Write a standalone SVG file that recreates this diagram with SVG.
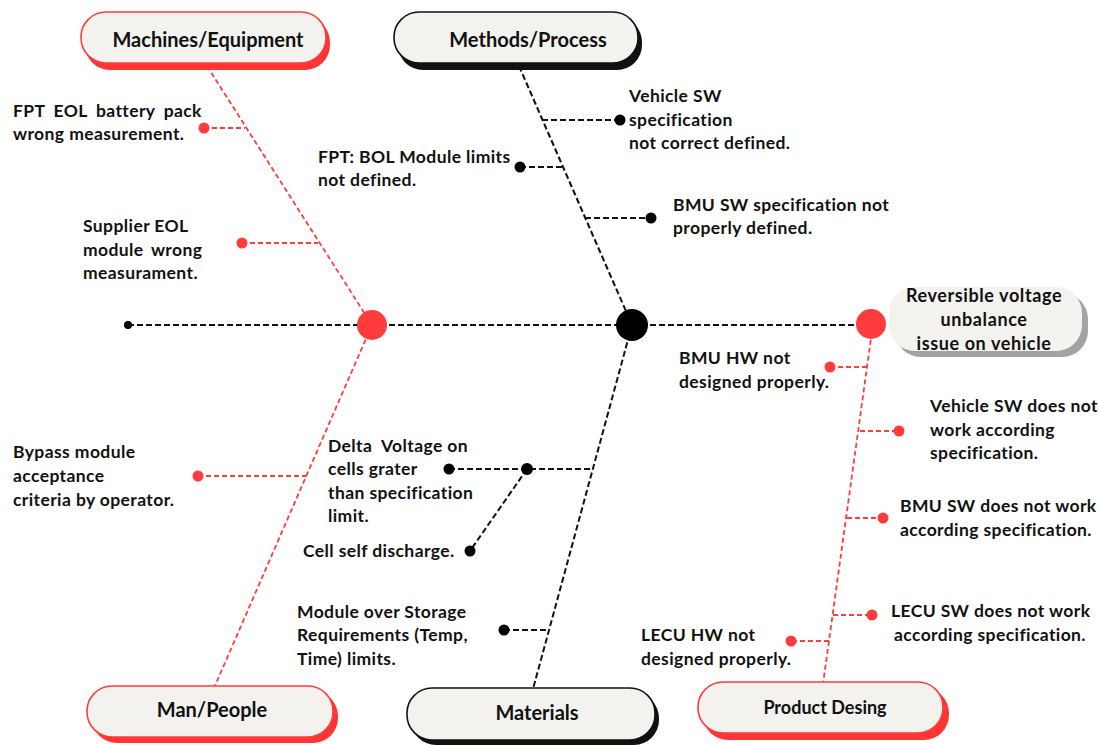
<svg xmlns="http://www.w3.org/2000/svg" width="1099" height="745" viewBox="0 0 1099 745">
  <style>
    text { font-family: Lato, "Liberation Sans", sans-serif; font-weight: 700; fill: #111; }
    .lbl { font-size: 17.5px; letter-spacing: 0.4px; }
    .cat { font-size: 20px; text-anchor: middle; }
    .head { font-size: 18px; text-anchor: middle; letter-spacing: 0.6px; }
    .box { fill: #f3f2ef; stroke-width: 1.6; }
    .red .box { stroke: #ff3b3b; }
    .red .shadow { fill: #ff3535; }
    .blk .box { stroke: #111; }
    .blk .shadow { fill: #111; }
    .bk { stroke: #111; stroke-width: 2; stroke-dasharray: 6 3; fill: none; }
    .rd { stroke: #ff3b3b; stroke-width: 1.8; stroke-dasharray: 5 3; fill: none; }
    .dotk { fill: #000; }
    .dotr { fill: #ff3b3b; }
  </style>

  <!-- bones and branch lines -->
  <g id="connectors">
    <line class="bk" x1="128" y1="325" x2="860" y2="325"/>
    <!-- Machines/Equipment bone -->
    <line class="rd" x1="207" y1="66" x2="372" y2="325"/>
    <line class="rd" x1="204" y1="128" x2="245" y2="128"/>
    <line class="rd" x1="242" y1="243" x2="318" y2="243"/>
    <!-- Man/People bone -->
    <line class="rd" x1="372" y1="325" x2="214" y2="688"/>
    <line class="rd" x1="198" y1="476" x2="306" y2="476"/>
    <!-- Methods/Process bone -->
    <line class="bk" x1="519" y1="66" x2="632" y2="325"/>
    <line class="bk" x1="542" y1="120" x2="620" y2="120"/>
    <line class="bk" x1="520" y1="167" x2="563" y2="167"/>
    <line class="bk" x1="585" y1="218" x2="651" y2="218"/>
    <!-- Materials bone -->
    <line class="bk" x1="632" y1="325" x2="533" y2="689"/>
    <line class="bk" x1="449" y1="469" x2="592" y2="469"/>
    <line class="bk" x1="527" y1="469" x2="470" y2="551"/>
    <line class="bk" x1="504" y1="630" x2="549" y2="630"/>
    <!-- Product Desing bone -->
    <line class="rd" x1="873" y1="324" x2="823" y2="684"/>
    <line class="rd" x1="830" y1="367" x2="868" y2="367"/>
    <line class="rd" x1="860" y1="431" x2="899" y2="431"/>
    <line class="rd" x1="847" y1="518" x2="883" y2="518"/>
    <line class="rd" x1="833" y1="615" x2="872" y2="615"/>
    <line class="rd" x1="829" y1="641" x2="791" y2="641"/>
  </g>

  <!-- spine junctions -->
  <g id="junctions">
    <circle class="dotk" cx="128" cy="325" r="4"/>
    <circle class="dotr" cx="372" cy="325" r="15"/>
    <circle class="dotk" cx="632" cy="325" r="16"/>
    <circle class="dotr" cx="871" cy="324" r="15"/>
    <circle class="dotk" cx="527" cy="469" r="6"/>
  </g>

  <!-- effect -->
  <g id="effect">
    <rect x="895" y="293" width="193" height="64" rx="26" fill="#a3a3a3"/>
    <rect x="889" y="287" width="193" height="64" rx="26" fill="#f3f2ef"/>
    <text class="head" x="984" y="302">Reversible voltage</text>
    <text class="head" x="984" y="326">unbalance</text>
    <text class="head" x="984" y="350">issue on vehicle</text>
  </g>

  <!-- category boxes -->
  <g id="cat-machines" class="red">
    <rect class="shadow" x="85" y="17" width="245" height="53" rx="25"/>
    <rect class="box" x="81" y="12" width="245" height="51" rx="25"/>
    <text class="cat" x="208" y="47">Machines/Equipment</text>
  </g>
  <g id="cat-methods" class="blk">
    <rect class="shadow" x="398" y="17" width="244" height="53" rx="25"/>
    <rect class="box" x="394" y="12" width="244" height="51" rx="25"/>
    <text class="cat" x="528" y="47">Methods/Process</text>
  </g>
  <g id="cat-man" class="red">
    <rect class="shadow" x="92" y="691" width="246" height="52" rx="25"/>
    <rect class="box" x="87" y="686" width="246" height="51" rx="25"/>
    <text class="cat" x="212" y="717">Man/People</text>
  </g>
  <g id="cat-materials" class="blk">
    <rect class="shadow" x="411" y="693" width="248" height="52" rx="25"/>
    <rect class="box" x="407" y="688" width="248" height="52" rx="25"/>
    <text class="cat" x="537" y="720">Materials</text>
  </g>
  <g id="cat-product" class="red">
    <rect class="shadow" x="703" y="688" width="246" height="52" rx="25"/>
    <rect class="box" x="698" y="682" width="245" height="51" rx="25"/>
    <text class="cat" x="825" y="714" style="font-size:18px">Product Desing</text>
  </g>

  <!-- causes: Machines/Equipment -->
  <g id="cause-fpt-eol">
    <circle class="dotr" cx="204" cy="128" r="5.5"/>
    <text class="lbl" x="13" y="117" word-spacing="4">FPT EOL battery pack</text>
    <text class="lbl" x="13" y="140">wrong measurement.</text>
  </g>
  <g id="cause-supplier-eol">
    <circle class="dotr" cx="242" cy="243" r="5.5"/>
    <text class="lbl" x="83" y="232">Supplier EOL</text>
    <text class="lbl" x="83" y="256" word-spacing="3">module wrong</text>
    <text class="lbl" x="83" y="279">measurament.</text>
  </g>

  <!-- causes: Man/People -->
  <g id="cause-bypass">
    <circle class="dotr" cx="198" cy="476" r="5.5"/>
    <text class="lbl" x="13" y="458">Bypass module</text>
    <text class="lbl" x="13" y="482">acceptance</text>
    <text class="lbl" x="13" y="506">criteria by operator.</text>
  </g>

  <!-- causes: Methods/Process -->
  <g id="cause-vehicle-sw-spec">
    <circle class="dotk" cx="620" cy="120" r="5.5"/>
    <text class="lbl" x="629" y="102">Vehicle SW</text>
    <text class="lbl" x="629" y="126">specification</text>
    <text class="lbl" x="629" y="149">not correct defined.</text>
  </g>
  <g id="cause-bol-limits">
    <circle class="dotk" cx="520" cy="167" r="5.5"/>
    <text class="lbl" x="318" y="163">FPT: BOL Module limits</text>
    <text class="lbl" x="318" y="186">not defined.</text>
  </g>
  <g id="cause-bmu-sw-spec">
    <circle class="dotk" cx="651" cy="218" r="5.5"/>
    <text class="lbl" x="673" y="211">BMU SW specification not</text>
    <text class="lbl" x="673" y="234">properly defined.</text>
  </g>

  <!-- causes: Materials -->
  <g id="cause-delta-voltage">
    <circle class="dotk" cx="449" cy="469" r="5.5"/>
    <text class="lbl" x="328" y="452" xml:space="preserve">Delta  Voltage on</text>
    <text class="lbl" x="328" y="475">cells grater</text>
    <text class="lbl" x="328" y="499">than specification</text>
    <text class="lbl" x="328" y="522">limit.</text>
  </g>
  <g id="cause-self-discharge">
    <circle class="dotk" cx="470" cy="551" r="5.5"/>
    <text class="lbl" x="303" y="557">Cell self discharge.</text>
  </g>
  <g id="cause-storage">
    <circle class="dotk" cx="504" cy="630" r="5.5"/>
    <text class="lbl" x="297" y="618">Module over Storage</text>
    <text class="lbl" x="297" y="641">Requirements (Temp,</text>
    <text class="lbl" x="297" y="665">Time) limits.</text>
  </g>

  <!-- causes: Product Desing -->
  <g id="cause-bmu-hw">
    <circle class="dotr" cx="830" cy="367" r="5.5"/>
    <text class="lbl" x="679" y="364">BMU HW not</text>
    <text class="lbl" x="679" y="388">designed properly.</text>
  </g>
  <g id="cause-vehicle-sw">
    <circle class="dotr" cx="899" cy="431" r="5.5"/>
    <text class="lbl" x="930" y="412">Vehicle SW does not</text>
    <text class="lbl" x="930" y="436">work according</text>
    <text class="lbl" x="930" y="459">specification.</text>
  </g>
  <g id="cause-bmu-sw">
    <circle class="dotr" cx="883" cy="518" r="5.5"/>
    <text class="lbl" x="900" y="512">BMU SW does not work</text>
    <text class="lbl" x="900" y="536">according specification.</text>
  </g>
  <g id="cause-lecu-sw">
    <circle class="dotr" cx="872" cy="615" r="5.5"/>
    <text class="lbl" x="891" y="617">LECU SW does not work</text>
    <text class="lbl" x="894" y="641">according specification.</text>
  </g>
  <g id="cause-lecu-hw">
    <circle class="dotr" cx="791" cy="641" r="5.5"/>
    <text class="lbl" x="641" y="641">LECU HW not</text>
    <text class="lbl" x="641" y="665">designed properly.</text>
  </g>
</svg>
